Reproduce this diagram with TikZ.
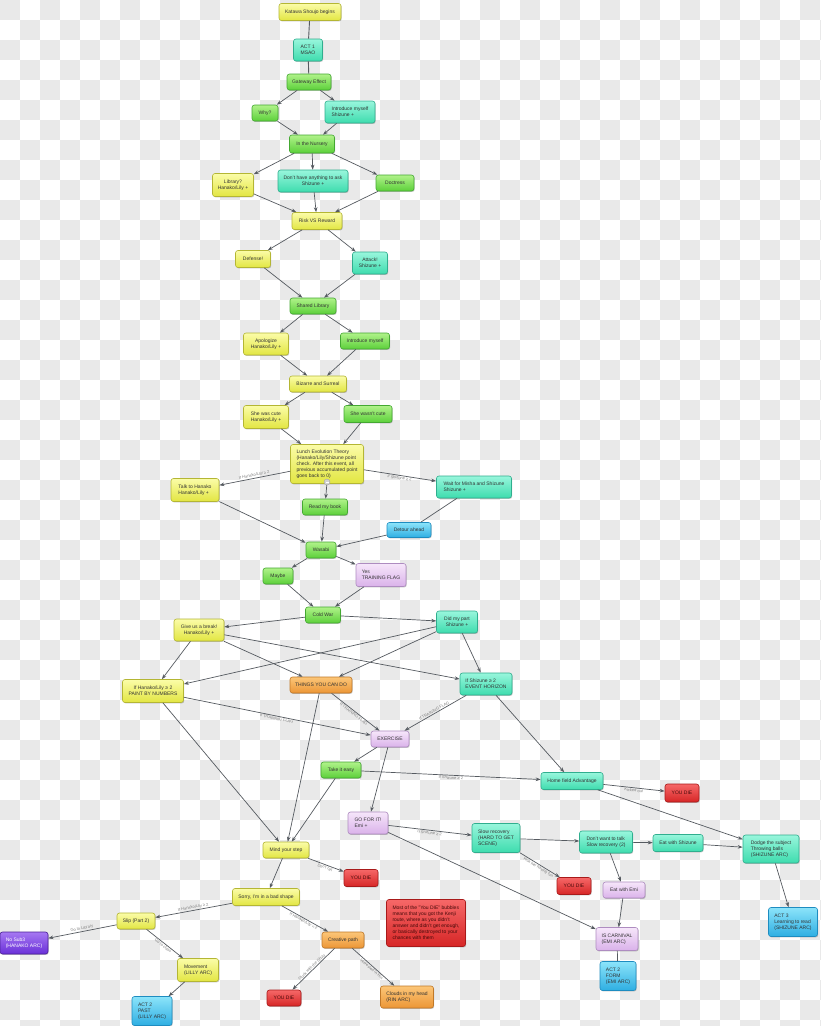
\documentclass[tikz,border=0pt]{standalone}
\usepackage{fontspec}
\setmainfont{Liberation Sans}
\usetikzlibrary{arrows.meta,shadows}
\definecolor{chk}{HTML}{E9E9E9}
\definecolor{txt}{HTML}{333333}
\definecolor{edgec}{HTML}{555A60}
\definecolor{yT}{HTML}{FBFCA8}\definecolor{yD}{HTML}{E2E642}\definecolor{yB}{HTML}{B4B634}
\definecolor{gT}{HTML}{B0F28A}\definecolor{gD}{HTML}{5CD03A}\definecolor{gB}{HTML}{44A832}
\definecolor{tT}{HTML}{98F6DC}\definecolor{tD}{HTML}{3EDCAE}\definecolor{tB}{HTML}{30AE8E}
\definecolor{bT}{HTML}{8CE4FA}\definecolor{bD}{HTML}{2EAEE2}\definecolor{bB}{HTML}{1E8CC0}
\definecolor{pT}{HTML}{F6E6FA}\definecolor{pD}{HTML}{DAB2EA}\definecolor{pB}{HTML}{AE8CC0}
\definecolor{oT}{HTML}{FCC678}\definecolor{oD}{HTML}{EC9636}\definecolor{oB}{HTML}{C07828}
\definecolor{rT}{HTML}{F66868}\definecolor{rD}{HTML}{D62626}\definecolor{rB}{HTML}{A81A1A}
\definecolor{uT}{HTML}{A678F2}\definecolor{uD}{HTML}{6A30D8}\definecolor{uB}{HTML}{4A2098}
\newcommand\nd[6]{\node[#1,minimum width=#4pt,minimum height=#5pt] (#2) at (#3) {#6};}
\begin{document}
\begin{tikzpicture}[x=1pt,y=-1pt,
  box/.style={rounded corners=2.5pt, line width=0.6pt, inner sep=1.5pt, align=center,
    font=\fontsize{5}{6}\selectfont, text=txt,
    drop shadow={shadow xshift=0.7pt, shadow yshift=-0.9pt, opacity=0.22, fill=black}},
  al/.style={align=left},
  nyel/.style={box, draw=yB, top color=yT, bottom color=yD},
  ngrn/.style={box, draw=gB, top color=gT, bottom color=gD},
  ntea/.style={box, draw=tB, top color=tT, bottom color=tD},
  nblu/.style={box, draw=bB, top color=bT, bottom color=bD},
  npnk/.style={box, draw=pB, top color=pT, bottom color=pD},
  norg/.style={box, draw=oB, top color=oT, bottom color=oD},
  nred/.style={box, draw=rB, top color=rT, bottom color=rD, text={rgb,255:red,70;green,10;blue,10}},
  npur/.style={box, draw=uB, top color=uT, bottom color=uD, text=white},
  ed/.style={draw=edgec, line width=0.7pt, -{Stealth[length=5pt,width=3.6pt]}},
  ln/.style={draw=edgec, line width=0.9pt},
  lb/.style={font=\fontsize{4}{4.5}\selectfont, text=gray, sloped, inner sep=0.8pt}]
\useasboundingbox (0,0) rectangle (820,1026);
\fill[white] (0,0) rectangle (820,1026);
\foreach \j in {0,...,51}{
  \pgfmathtruncatemacro\o{mod(\j,2)*20}
  \foreach \i in {0,40,...,800}{\fill[chk] (\i+\o,\j*20) rectangle ++(20,20);}}

\nd{nyel}{ks}{310,12}{62}{17}{Katawa Shoujo begins}
\nd{ntea,al}{act1}{308,50}{29}{22}{ACT 1\\MSAO}
\nd{ngrn}{gate}{309,82}{44}{16}{Gateway Effect}
\nd{ngrn}{why}{265,113}{26}{16}{Why?}
\nd{ntea,al}{intro1}{350,112}{50}{22}{Introduce myself\\Shizune +}
\nd{ngrn}{nurs}{312,144}{45}{18}{In the Nursery}
\nd{nyel}{lib}{233,185}{41}{23}{Library?\\Hanako/Lily +}
\nd{ntea}{dont}{313,181}{70}{22}{Don't have anything to ask\\Shizune +}
\nd{ngrn}{doct}{395,183}{38}{16}{Doctress}
\nd{nyel}{risk}{317,221}{50}{17}{Risk VS Reward}
\nd{nyel}{def}{253,259}{35}{17}{Defense!}
\nd{ntea}{att}{370,263}{35}{22}{Attack!\\Shizune +}
\nd{ngrn}{shared}{313,306}{46}{16}{Shared Library}
\nd{nyel}{apol}{266,344}{45}{22}{Apologize\\Hanako/Lily +}
\nd{ngrn}{intro2}{365,341}{49}{16}{Introduce myself}
\nd{nyel}{biz}{318,384}{57}{16}{Bizarre and Surreal}
\nd{nyel,al}{cute}{266,417}{45}{23}{She was cute\\Hanako/Lily +}
\nd{ngrn}{ncute}{368,414}{48}{17}{She wasn't cute}
\nd{nyel,al}{lunch}{327,464}{73}{39}{Lunch Evolution Theory\\(Hanako/Lily/Shizune point\\check. After this event, all\\previous accumulated point\\goes back to 0)}
\node[circle, draw=gray!70, fill=gray!35, minimum size=6pt, inner sep=0pt] (ic) at (327,482) {\color{white}\rule[0.2pt]{3pt}{0.7pt}};
\nd{nyel,al}{talk}{195,490}{48}{23}{Talk to Hanako\\Hanako/Lily +}
\nd{ntea,al}{wait}{474,487}{75}{22}{Wait for Misha and Shizune\\Shizune +}
\nd{ngrn}{read}{325,507}{45}{16}{Read my book}
\nd{nblu}{detour}{409,530}{44}{15}{Detour ahead}
\nd{ngrn}{wasabi}{321,550}{30}{16}{Wasabi}
\nd{ngrn}{maybe}{278,576}{30}{16}{Maybe}
\nd{npnk,al}{yes}{381,575}{50}{23}{Yes\\TRAINING FLAG}
\nd{ngrn}{cold}{323,615}{35}{16}{Cold War}
\nd{nyel}{give}{199,630}{50}{22}{Give us a break!\\Hanako/Lily +}
\nd{ntea}{did}{457,622}{41}{22}{Did my part\\Shizune +}
\nd{nyel}{pbn}{153,691}{61}{23}{If Hanako/Lily ≥ 2\\PAINT BY NUMBERS}
\nd{norg}{things}{321,685}{62}{16}{THINGS YOU CAN DO}
\nd{ntea,al}{eh}{486,684}{52}{22}{If Shizune ≥ 2\\EVENT HORIZON}
\nd{npnk}{ex}{390,739}{38}{16}{EXERCISE}
\nd{ngrn}{easy}{341,770}{40}{16}{Take it easy}
\nd{ntea}{home}{572,781}{62}{17}{Home field Advantage}
\nd{nred}{die1}{682,793}{34}{18}{YOU DIE}
\nd{npnk,al}{go}{368,823}{40}{22}{GO FOR IT!\\Emi +}
\nd{ntea,al}{slow}{496,838}{48}{29}{Slow recovery\\(HARD TO GET\\SCENE)}
\nd{ntea,al}{dwt}{606,842}{53}{22}{Don't want to talk\\Slow recovery (2)}
\nd{ntea}{eats}{678,843}{50}{17}{Eat with Shizune}
\nd{ntea,al}{dodge}{771,849}{56}{28}{Dodge the subject\\Throwing balls\\(SHIZUNE ARC)}
\nd{nred}{die2}{574,886}{34}{17}{YOU DIE}
\nd{npnk}{eate}{624,890}{42}{16}{Eat with Emi}
\nd{npnk,al}{carn}{617,939}{42}{23}{IS CARNIVAL\\(EMI ARC)}
\nd{nblu,al}{act2f}{618,976}{36}{29}{ACT 2\\FORM\\(EMI ARC)}
\nd{nblu,al}{act3}{793,922}{49}{29}{ACT 3\\Learning to read\\(SHIZUNE ARC)}
\nd{nred,al}{note}{426,923}{79}{47}{Most of the "You DIE" bubbles\\means that you got the Kenji\\route, where as you didn't\\answer and didn't get enough,\\or basically destroyed to your\\chances with them}
\nd{norg,al}{clouds}{407,997}{53}{22}{Clouds in my head\\(RIN ARC)}
\nd{nred}{die4}{284,998}{34}{16}{YOU DIE}
\nd{norg}{creat}{343,940}{42}{16}{Creative path}
\nd{nyel}{mind}{286,850}{46}{16}{Mind your step}
\nd{nred}{die3}{361,878}{34}{17}{YOU DIE}
\nd{nyel}{sorry}{266,897}{67}{17}{Sorry, I'm in a bad shape}
\nd{nyel}{slip}{136,921}{38}{16}{Slip (Part 2)}
\nd{npur,al}{nosub}{24,943}{48}{22}{No Sub3\\(HANAKO ARC)}
\nd{nyel,al}{move}{198,970}{41}{23}{Movement\\(LILLY ARC)}
\nd{nblu,al}{act2p}{152,1011}{40}{29}{ACT 2\\PAST\\(LILLY ARC)}

\draw[ln] (ks) -- (act1);
\draw[ln] (act1) -- (gate);
\draw[ed] (gate) -- (why);
\draw[ed] (gate) -- (intro1);
\draw[ed] (why) -- (nurs);
\draw[ed] (intro1) -- (nurs);
\draw[ed] (nurs) -- (lib);
\draw[ed] (nurs) -- (dont);
\draw[ed] (nurs) -- (doct);
\draw[ed] (lib) -- (risk);
\draw[ed] (dont) -- (risk);
\draw[ed] (doct) -- (risk);
\draw[ed] (risk) -- (def);
\draw[ed] (risk) -- (att);
\draw[ed] (def) -- (shared);
\draw[ed] (att) -- (shared);
\draw[ed] (shared) -- (apol);
\draw[ed] (shared) -- (intro2);
\draw[ed] (apol) -- (biz);
\draw[ed] (intro2) -- (biz);
\draw[ed] (biz) -- (cute);
\draw[ed] (biz) -- (ncute);
\draw[ed] (cute) -- (lunch);
\draw[ed] (ncute) -- (lunch);
\draw[ed] (lunch) -- node[lb,above]{If Hanako/Lily ≥ 2} (talk);
\draw[ed] (lunch) -- node[lb,below]{If Shizune ≥ 2} (wait);
\draw[ed] (ic) -- (read);
\draw[ed] (talk) -- (wasabi);
\draw[ed] (read) -- (wasabi);
\draw[ln,line width=0.7pt] (wait) -- (detour);
\draw[ed] (detour) -- (wasabi);
\draw[ed] (wasabi) -- (maybe);
\draw[ed] (wasabi) -- (yes);
\draw[ed] (maybe) -- (cold);
\draw[ed] (yes) -- (cold);
\draw[ed] (cold) -- (give);
\draw[ed] (cold) -- (did);
\draw[ed] (give) -- (pbn);
\draw[ed] (give) -- (things);
\draw[ed] (give) -- (eh);
\draw[ed] (did) -- (pbn);
\draw[ed] (did) -- (things);
\draw[ed] (did) -- (eh);
\draw[ed] (pbn) -- node[lb,below,pos=0.5]{If TRAINING FLAG} (ex);
\draw[ed] (pbn) -- (mind);
\draw[ed] (things) -- node[lb,below]{If TRAINING FLAG} (ex);
\draw[ed] (things) -- (mind);
\draw[ed] (eh) -- node[lb,above]{If TRAINING FLAG} (ex);
\draw[ed] (eh) -- (home);
\draw[ed] (ex) -- (easy);
\draw[ed] (ex) -- (go);
\draw[ed] (easy) -- node[lb,below]{If Shizune ≥ 2} (home);
\draw[ed] (easy) -- (mind);
\draw[ed] (home) -- node[lb,below]{Kicked out} (die1);
\draw[ed] (home) -- (dodge);
\draw[ed] (go) -- node[lb,below]{If Shizune ≥ 2} (slow);
\draw[ed] (go) -- (carn);
\draw[ed] (slow) -- (dwt);
\draw[ed] (slow) -- node[lb,below]{Kick her having fun} (die2);
\draw[ed] (dwt) -- (eats);
\draw[ed] (dwt) -- (eate);
\draw[ed] (eats) -- (dodge);
\draw[ed] (eate) -- (carn);
\draw[ln,line width=0.7pt] (carn) -- (act2f);
\draw[ed] (dodge) -- (act3);
\draw[ed] (mind) -- node[lb,below]{Don't fall} (die3);
\draw[ed] (mind) -- (sorry);
\draw[ed] (sorry) -- node[lb,above]{If Hanako/Lily ≥ 2} (slip);
\draw[ed] (sorry) -- node[lb,below]{If Hanako/Lily < 2} (creat);
\draw[ed] (slip) -- node[lb,above]{Go to Library} (nosub);
\draw[ed] (slip) -- node[lb,below]{Go to class} (move);
\draw[ed] (move) -- (act2p);
\draw[ed] (creat) -- node[lb,above]{Stuck with the Shizu} (die4);
\draw[ed] (creat) -- node[lb,below]{Interested in Rin} (clouds);
\end{tikzpicture}
\end{document}
